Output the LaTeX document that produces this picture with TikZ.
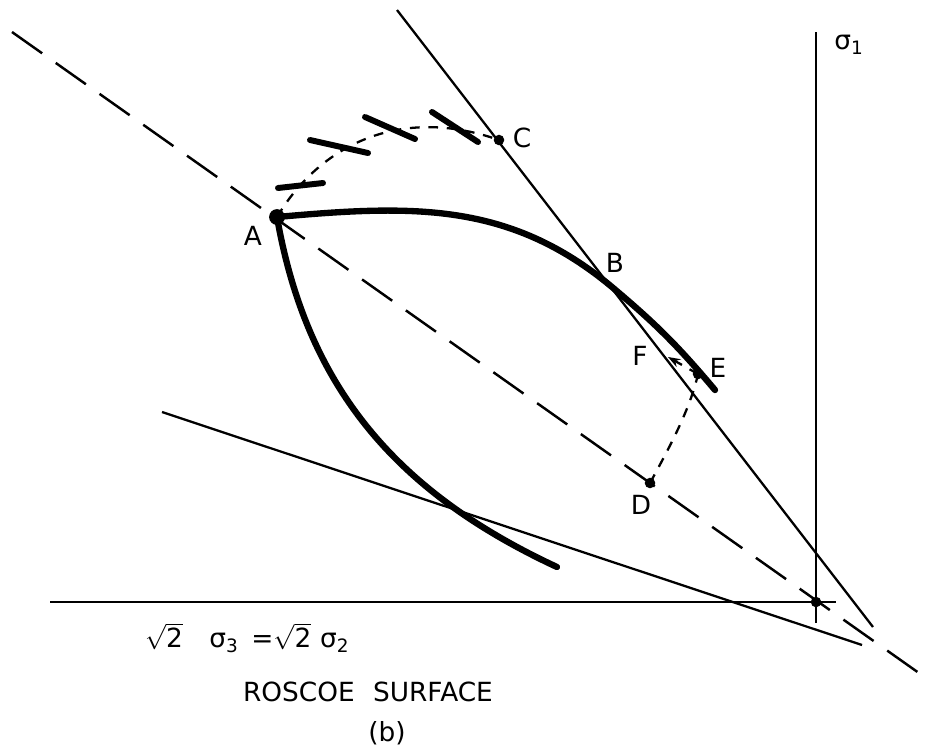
\documentclass[tikz,border=0pt]{standalone}
\usepackage{fontspec}
\setmainfont{DejaVu Sans}
\usetikzlibrary{arrows.meta}

\begin{document}
\begin{tikzpicture}[x=0.02cm, y=-0.02cm,
    axis/.style={line width=1.3pt},
    path curve/.style={line width=3.6pt, line cap=round},
    longdash/.style={line width=1.4pt, dash pattern=on 21pt off 9.5pt},
    shortdash/.style={line width=1.3pt, dash pattern=on 5.5pt off 5pt},
    hatch/.style={line width=3.4pt, line cap=round},
    lbl/.style={font=\fontsize{15}{17}\selectfont, inner sep=1pt}]
  \useasboundingbox (0,0) rectangle (926,752);
  % stress points
  \coordinate (A) at (277,217);
  \coordinate (B) at (612,287);
  \coordinate (C) at (499,140);
  \coordinate (D) at (650,483);
  \coordinate (E) at (698,374);
  \coordinate (F) at (668,357);
  \coordinate (O) at (816,602);
  % free ends of the lines
  \coordinate (diag1) at (12,32);
  \coordinate (diag2) at (926,678);
  \coordinate (tan1) at (397,10);
  \coordinate (tan2) at (873,627);
  \coordinate (low1) at (162,412);
  \coordinate (low2) at (862,645);
  \coordinate (hor1) at (50,602);
  \coordinate (hor2) at (836,602);
  \coordinate (ver1) at (816,32);
  \coordinate (ver2) at (816,623);
  \coordinate (upEnd) at (715,390);
  \coordinate (leftEnd) at (557,567);

  \draw[axis] (hor1) -- (hor2);
  \draw[axis] (ver1) -- (ver2);
  \draw[axis] (tan1) -- (tan2);
  \draw[axis] (low1) -- (low2);
  \draw[longdash] (diag1) -- (diag2);

  \draw[path curve] (A) .. controls (411,205) and (509,201) .. (B)
                        .. controls (656,324) and (678,346) .. (upEnd);
  \draw[path curve] (A) .. controls (307,389) and (398,493) .. (leftEnd);
  \draw[shortdash] (A) .. controls (320,145) and (400,105) .. (C);
  \draw[shortdash] (D) .. controls (668,450) and (690,410) .. (E);
  \draw[shortdash, -{Stealth[length=7pt, width=5pt]}] (E) -- (F);

  \draw[hatch] (278,188) -- (323,183);
  \draw[hatch] (310,140) -- (368,153);
  \draw[hatch] (365,117) -- (415,139);
  \draw[hatch] (432,112) -- (478,142);

  \fill (A) circle[radius=4.5pt];
  \foreach \p in {C, D, E, O}
    \fill (\p) circle[radius=3pt];

  \node[lbl] (labA) at (253,236) {A};
  \node[lbl] (labB) at (615,263) {B};
  \node[lbl] (labC) at (522,138) {C};
  \node[lbl] (labD) at (641,505) {D};
  \node[lbl] (labE) at (718,368) {E};
  \node[lbl] (labF) at (640,356) {F};
  \node[lbl] (sig1) at (849,45) {σ\textsubscript{1}};
  \node[lbl, anchor=west] (surf) at (143,638)
    {$\sqrt{\hbox{2}}$\quad σ\textsubscript{3} \,=$\sqrt{\hbox{2}}$\,\,σ\textsubscript{2}};
  \node[lbl] (name) at (368,692) {ROSCOE\hspace{0.7em}SURFACE};
  \node[lbl] (part) at (387,733) {(b)};
\end{tikzpicture}
\end{document}
